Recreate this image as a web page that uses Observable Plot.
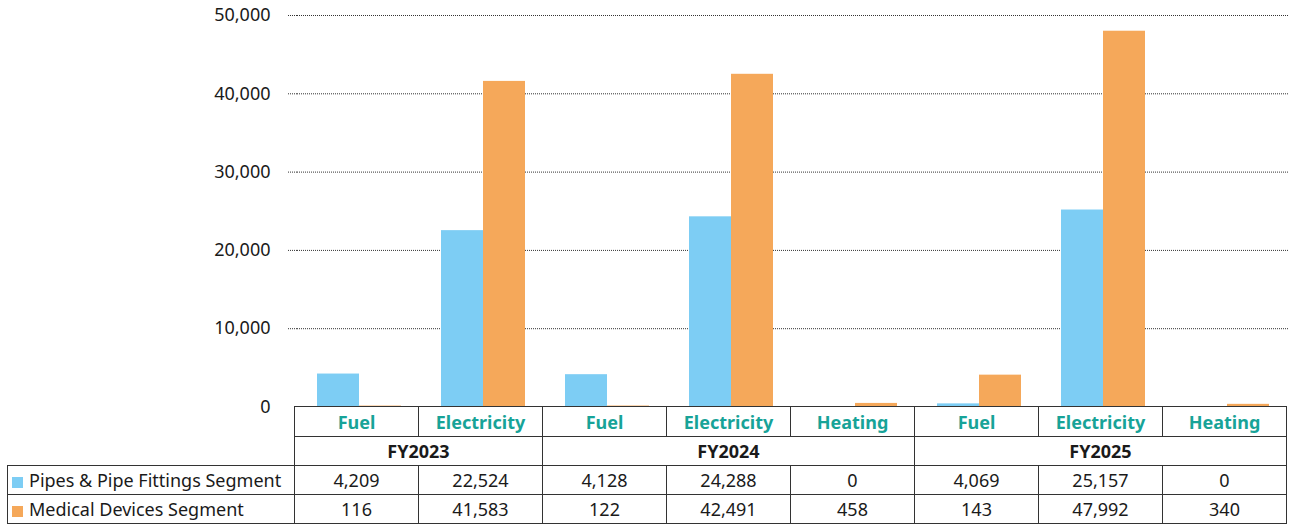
<!DOCTYPE html>
<html>
<head>
<meta charset="utf-8">
<script src="https://cdn.jsdelivr.net/npm/d3@7"></script>
<script src="https://cdn.jsdelivr.net/npm/@observablehq/plot@0.6"></script>
<style>
  html, body { margin: 0; padding: 0; background: #fff; }
  body { font-family: "Noto Sans", "Open Sans", sans-serif; }
  #wrap { position: relative; width: 1297px; height: 524px; overflow: hidden; }
  #wrap svg { position: absolute; left: 0; top: 0; }
  #tbl { position: absolute; border-collapse: collapse; table-layout: fixed; font-size: 18px; color: #1a1a1a; }
  #tbl td { border: 1px solid #333; text-align: center; vertical-align: middle; padding: 0; white-space: nowrap; overflow: hidden; line-height: 1; }
  #tbl td.blank { border-top: none; border-left: none; border-bottom: none; }
  #tbl td.cat { color: #17a398; font-weight: bold; }
  #tbl td.year { font-weight: bold; }
  #tbl td.leg { text-align: left; padding-left: 4px; }
  #tbl td.leg span.sw { display: inline-block; width: 11px; height: 11px; margin-right: 6px; vertical-align: -1px; }
</style>
</head>
<body>
<div id="wrap"></div>
<script>
// ---- data ----
const years = ["FY2023", "FY2024", "FY2025"];
const yearCategories = [
  ["Fuel", "Electricity"],
  ["Fuel", "Electricity", "Heating"],
  ["Fuel", "Electricity", "Heating"]
];
const seriesNames = ["Pipes & Pipe Fittings Segment", "Medical Devices Segment"];
const seriesColors = ["#7dcdf4", "#f5a85a"];
// bar heights as drawn in the picture
const pipesBars   = [4209, 22524, 4128, 24288, 0, 400, 25157, 0];
const medicalBars = [116, 41583, 122, 42491, 458, 4069, 47992, 340];
// values printed in the data table
const pipesTable   = [4209, 22524, 4128, 24288, 0, 4069, 25157, 0];
const medicalTable = [116, 41583, 122, 42491, 458, 143, 47992, 340];
const yTicks = [0, 10000, 20000, 30000, 40000, 50000];

// ---- derived ----
const columns = years.flatMap((y, i) => yearCategories[i].map(c => ({key: y + "|" + c, year: y, cat: c})));
const keys = columns.map(d => d.key);
const bars = columns.flatMap((c, i) => [
  {key: c.key, series: seriesNames[0], value: pipesBars[i]},
  {key: c.key, series: seriesNames[1], value: medicalBars[i]}
]);

const fmt = d3.format(",");

const plot = Plot.plot({
  width: 1297,
  height: 524,
  marginTop: 15,
  marginBottom: 117.5,
  marginLeft: 294,
  marginRight: 6,
  style: {fontFamily: '"Noto Sans", "Open Sans", sans-serif', fontSize: "18px", color: "#1a1a1a", overflow: "visible", background: "transparent"},
  fx: {domain: keys, padding: 0, axis: null, label: null},
  x: {domain: seriesNames, paddingInner: 0, paddingOuter: 0.45, axis: null},
  y: {domain: [0, 50000], axis: null},
  color: {domain: seriesNames, range: seriesColors},
  marks: [
    Plot.gridY(yTicks.slice(1), {stroke: "#333", strokeOpacity: 1, strokeDasharray: "1,1"}),
    Plot.axisY(yTicks.slice(1), {tickSize: 10, tickFormat: () => "", stroke: "#333", strokeDasharray: "1,1", label: null}),
    Plot.axisY(yTicks, {tickSize: 0, tickPadding: 27, tickFormat: fmt, fill: "#1a1a1a", label: null}),
    Plot.barY(bars, {fx: "key", x: "series", y: "value", fill: "series"})
  ]
});

const wrap = document.getElementById("wrap");
wrap.appendChild(plot);

// ---- data table below the bars, aligned to the fx scale ----
const fx = plot.scale("fx");
const bw = fx.bandwidth;
const left0 = fx.range[0];
const tableLeft = 7;

const tbl = document.createElement("table");
tbl.id = "tbl";
tbl.style.left = tableLeft + "px";
tbl.style.top = "406px";
tbl.style.width = (left0 - tableLeft + bw * keys.length) + "px";

const colgroup = document.createElement("colgroup");
const c0 = document.createElement("col");
c0.style.width = (left0 - tableLeft) + "px";
colgroup.appendChild(c0);
keys.forEach(() => { const c = document.createElement("col"); c.style.width = bw + "px"; colgroup.appendChild(c); });
tbl.appendChild(colgroup);

function row(h) { const tr = document.createElement("tr"); tr.style.height = h + "px"; tbl.appendChild(tr); return tr; }
function cell(tr, text, cls, span) {
  const td = document.createElement("td");
  if (cls) td.className = cls;
  if (span) td.colSpan = span;
  if (text !== undefined && text !== null) td.textContent = text;
  tr.appendChild(td);
  return td;
}

const r1 = row(30);
cell(r1, "", "blank");
columns.forEach(c => cell(r1, c.cat, "cat"));

const r2 = row(29);
cell(r2, "", "blank");
years.forEach((y, i) => cell(r2, y, "year", yearCategories[i].length));

[pipesTable, medicalTable].forEach((vals, si) => {
  const r = row(29);
  const td = cell(r, null, "leg");
  const sw = document.createElement("span");
  sw.className = "sw";
  sw.style.background = seriesColors[si];
  td.appendChild(sw);
  td.appendChild(document.createTextNode(seriesNames[si]));
  vals.forEach(v => cell(r, fmt(v)));
});

wrap.appendChild(tbl);
</script>
</body>
</html>
